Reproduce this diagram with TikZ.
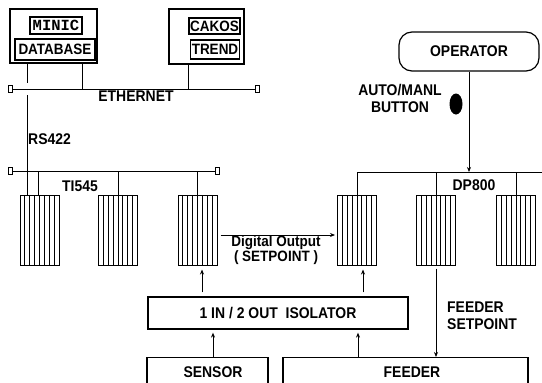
\documentclass[tikz,border=0pt]{standalone}
\usepackage{fontspec}
\setmainfont{Liberation Sans}[FakeStretch=0.9]
\newfontfamily\monofnt{Liberation Mono}
\usetikzlibrary{arrows.meta,calc,shapes.geometric}
\begin{document}
\begin{tikzpicture}[x=1pt,y=-1pt,
  lbl/.style={font=\fontsize{15.5}{17}\selectfont\bfseries, inner sep=0pt, align=center},
  box/.style={draw, line width=1.3pt, inner sep=0pt},
  tag/.style={draw, line width=1.6pt, inner sep=0pt, font=\fontsize{15}{16}\selectfont\bfseries},
  ln/.style={line width=0.9pt},
  arr/.style={line width=0.9pt, -{Stealth[length=5pt,width=4pt]}},
  term/.style={draw, line width=0.8pt, fill=white, minimum width=4pt, minimum height=7pt, inner sep=0pt},
  module/.style={draw, line width=1pt, minimum width=39pt, minimum height=70pt, inner sep=0pt,
    path picture={\foreach \i in {1,...,7}{\draw[line width=0.9pt]
      ($(path picture bounding box.south west)!\i/8!(path picture bounding box.south east)$) --
      ($(path picture bounding box.north west)!\i/8!(path picture bounding box.north east)$);}}}
]
\useasboundingbox (0,0) rectangle (542,383);
\clip (0,0) rectangle (542,383);

% --- MINIC / DATABASE
\node[box, minimum width=87pt, minimum height=54pt] (minic) at (53.5,36) {};
\node[tag, minimum width=52pt, minimum height=17pt, font=\monofnt\fontsize{15.5}{16}\selectfont\bfseries] (minict) at (56,25.5) {MINIC};
\node[tag, minimum width=80pt, minimum height=21pt] (dbt) at (55,49.5) {DATABASE};

% --- CAKOS / TREND
\node[box, minimum width=75pt, minimum height=55pt] (cakos) at (206.5,36.5) {};
\node[tag, minimum width=51pt, minimum height=16pt] (cakost) at (214.5,26) {CAKOS};
\node[tag, minimum width=49pt, minimum height=19pt] (trendt) at (215,49.5) {TREND};

% --- Ethernet
\node[term] (eL) at (10,89) {};
\node[term] (eR) at (257,89) {};
\draw[ln] (eL) -- (eR);
\node[lbl] (eth) at (136,96.5) {ETHERNET};
\coordinate (d1) at (82,89);
\coordinate (d2) at (188,89);
\draw[ln] (minic.south -| d1) -- (d1);
\draw[ln] (cakos.south -| d2) -- (d2);

% --- modules
\node[module] (m1) at (39.5,230) {};
\node[module] (m2) at (118,230) {};
\node[module] (m3) at (197.5,230) {};
\node[module] (m4) at (357,230) {};
\node[module] (m5) at (436,230) {};
\node[module] (m6) at (516,230) {};

% --- RS422 line (hops over Ethernet)
\coordinate (r1) at (27,83);
\coordinate (r2) at (27,95);
\coordinate (r3) at (27,195);
\draw[ln] (minic.south -| r1) -- (r1);
\draw[ln] (r2) -- (r3);
\node[lbl, anchor=west] (rs) at (28,139) {RS422};

% --- TI545 bus
\node[term] (tL) at (10,171) {};
\node[term] (tR) at (217,171) {};
\draw[ln] (tL) -- (tR);
\coordinate (b1) at (38,171);
\draw[ln] (b1) -- (m1.north -| b1);
\draw[ln] (m2.north |- tL) -- (m2.north);
\draw[ln] (m3.north |- tL) -- (m3.north);
\node[lbl] (ti) at (80,186) {TI545};

% --- Operator and DP800 bus
\node[lbl, draw, line width=1.2pt, rounded corners=13pt, minimum width=140pt, minimum height=39pt] (op) at (469,51.5) {OPERATOR};
\node[lbl, font=\fontsize{15.5}{17}\selectfont\bfseries] (am) at (400,98) {AUTO/MANL\\BUTTON};
\node[fill=black, ellipse, minimum width=13pt, minimum height=21pt, inner sep=0pt] (btn) at (456,104) {};
\coordinate (dpR) at (542,172);
\draw[ln] (m4.north) -- (m4.north |- dpR) -- (dpR);
\draw[ln] (m5.north) -- (m5.north |- dpR);
\draw[ln] (m6.north) -- (m6.north |- dpR);
\draw[arr] (op.south) -- (op.south |- dpR);
\node[lbl] (dp) at (474,185) {DP800};

% --- Digital output
\coordinate (dy) at (0,235);
\draw[arr, shorten <=3pt, shorten >=2pt] (m3.east |- dy) -- (m4.west |- dy);
\node[lbl, font=\fontsize{15}{15}\selectfont\bfseries] (dout) at (276,250.5) {Digital Output\\( SETPOINT )};

% --- Isolator
\node[box, lbl, minimum width=260pt, minimum height=32pt] (iso) at (278,313) {1 IN / 2 OUT\ \ ISOLATOR};
\coordinate (a1) at (202,0);
\coordinate (a2) at (363,0);
\draw[arr, shorten <=4pt, shorten >=4pt] (iso.north -| a1) -- (m3.south -| a1);
\draw[arr, shorten <=4pt, shorten >=4pt] (iso.north -| a2) -- (m4.south -| a2);

% --- Sensor and feeder
\node[box, minimum width=121pt, minimum height=40pt, anchor=north] (sen) at (207.5,357) {};
\node[lbl] (sent) at (213,372) {SENSOR};
\node[box, minimum width=245pt, minimum height=40pt, anchor=north] (fd) at (405.5,357) {};
\node[lbl] (fdt) at (412,372) {FEEDER};
\coordinate (s1) at (213,0);
\coordinate (f1) at (358,0);
\draw[arr, shorten >=3pt] (sen.north -| s1) -- (iso.south -| s1);
\draw[arr, shorten >=3pt] (fd.north -| f1) -- (iso.south -| f1);
\draw[arr, shorten <=3pt] (m5.south) -- (m5.south |- fd.north);
\node[lbl, anchor=west, align=left, font=\fontsize{15.5}{17}\selectfont\bfseries] (fsp) at (447,315.5) {FEEDER\\SETPOINT};
\end{tikzpicture}
\end{document}
